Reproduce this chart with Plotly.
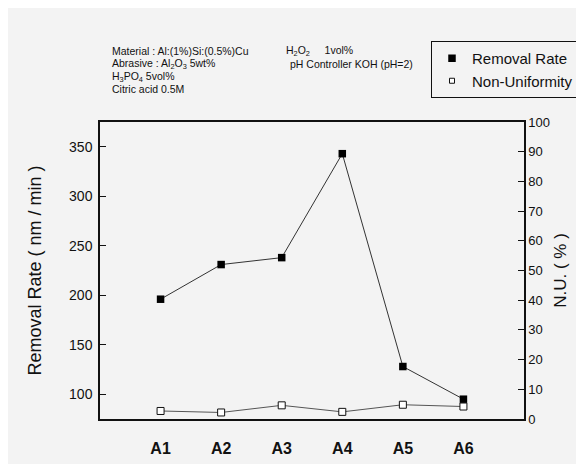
import plotly.graph_objects as go

categories = ["A1", "A2", "A3", "A4", "A5", "A6"]
removal_rate = [196, 231, 238, 343, 128, 95]
non_uniformity = [2.7, 2.2, 4.6, 2.4, 4.8, 4.2]
left_ticks = [100, 150, 200, 250, 300, 350]
right_ticks = [0, 10, 20, 30, 40, 50, 60, 70, 80, 90, 100]

FONT = "Arial, Liberation Sans, sans-serif"
INK = "#111111"
xidx = list(range(len(categories)))

# plot area (in page pixels): x 100..524, y 122..419 ; page body margin is 8px
PL, PT, PW, PH = 100, 122, 424, 297

fig = go.Figure()
fig.add_trace(go.Scatter(
    x=xidx, y=removal_rate, mode="lines+markers", showlegend=False,
    line=dict(color="#333333", width=1),
    marker=dict(symbol="square", size=7.5, color="#000000"),
))
fig.add_trace(go.Scatter(
    x=xidx, y=non_uniformity, mode="lines+markers", showlegend=False, yaxis="y2",
    line=dict(color="#555555", width=1),
    marker=dict(symbol="square", size=7, color="#ffffff", line=dict(color="#111111", width=1)),
))
# legend-only entries (markers only, as in the reference legend)
fig.add_trace(go.Scatter(
    x=[None], y=[None], mode="markers", name="Removal Rate",
    marker=dict(symbol="square", size=7.5, color="#000000"),
))
fig.add_trace(go.Scatter(
    x=[None], y=[None], mode="markers", name="Non-Uniformity",
    marker=dict(symbol="square", size=5, color="#ffffff", line=dict(color="#111111", width=1)),
))

notes_left = [
    "Material : Al:(1%)Si:(0.5%)Cu",
    "Abrasive : Al<sub>2</sub>O<sub>3</sub> 5wt%",
    "H<sub>3</sub>PO<sub>4</sub> 5vol%",
    "Citric acid 0.5M",
]
notes_right = [
    "H<sub>2</sub>O<sub>2</sub>\u00a0\u00a0\u00a0\u00a0\u00a01vol%",
    "pH Controller KOH (pH=2)",
]
annotations = []
ys = [51, 64, 77, 89]
for t, yy in zip(notes_left, ys):
    annotations.append(dict(text=t, xref="paper", yref="paper", x=(110 - PL) / PW,
                            y=1 + (PT - yy) / PH, xanchor="left", yanchor="middle",
                            showarrow=False, font=dict(family=FONT, size=10.5, color=INK)))
for t, yy, xx in zip(notes_right, ys[:2], [284, 288]):
    annotations.append(dict(text=t, xref="paper", yref="paper", x=(xx - PL) / PW,
                            y=1 + (PT - yy) / PH, xanchor="left", yanchor="middle",
                            showarrow=False, font=dict(family=FONT, size=10.5, color=INK)))

fig.update_layout(
    width=584, height=464,
    margin=dict(l=PL - 8, r=584 - (PL + PW - 8), t=PT - 8, b=464 - (PT + PH - 8),
                autoexpand=False),
    paper_bgcolor="#f3f3f3", plot_bgcolor="#f3f3f3",
    font=dict(family=FONT, color=INK),
    xaxis=dict(
        range=[-1, 6], tickvals=xidx, ticktext=categories, showgrid=False, zeroline=False,
        showline=True, mirror=True, linecolor="#111111", linewidth=1.5, ticks="",
        automargin=False,
        ticklabelstandoff=14, tickfont=dict(family=FONT, size=16, color=INK, weight="bold"),
    ),
    yaxis=dict(
        range=[75, 375], tickvals=left_ticks, showgrid=False, zeroline=False,
        showline=True, linecolor="#111111", linewidth=1.5, ticks="inside", ticklen=6,
        tickcolor="#111111", tickfont=dict(family=FONT, size=14, color=INK),
        ticklabelstandoff=3, automargin=False,
        title=dict(text="Removal Rate ( nm / min )", font=dict(family=FONT, size=18, color=INK),
                   standoff=23),
    ),
    yaxis2=dict(
        range=[0, 100], tickvals=right_ticks, overlaying="y", side="right", showgrid=False,
        zeroline=False, showline=True, linecolor="#111111", linewidth=1.5, ticks="inside",
        ticklen=6, tickcolor="#111111", tickfont=dict(family=FONT, size=13, color=INK),
        automargin=False,
        title=dict(text="N.U. ( % )", font=dict(family=FONT, size=17, color=INK), standoff=5),
    ),
    legend=dict(
        x=(431 - PL) / PW, y=1 + (PT - 41) / PH, xanchor="left", yanchor="top",
        bgcolor="rgba(0,0,0,0)", bordercolor="#111111", borderwidth=1,
        font=dict(family=FONT, size=15, color=INK), itemwidth=30, tracegroupgap=0,
    ),
    annotations=annotations,
)

fig.write_html("out.html")
